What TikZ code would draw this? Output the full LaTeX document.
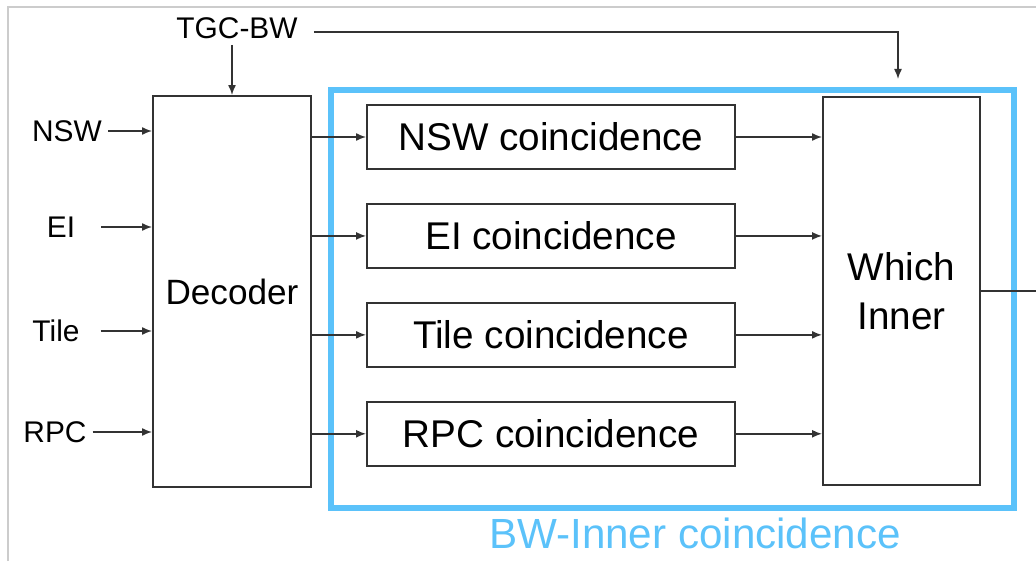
\documentclass[tikz,border=0pt]{standalone}
\usepackage{fontspec}
\setmainfont{Liberation Sans}
\usepackage{xcolor}
\usepackage{tikz}
\usetikzlibrary{arrows.meta,positioning}
\definecolor{innerBlue}{HTML}{5BC2FA}
\definecolor{lineGrey}{HTML}{333333}
\definecolor{frameGrey}{HTML}{CCCCCC}

\begin{document}
\begin{tikzpicture}[
  node distance=0.66cm,
  block/.style={rectangle,draw=lineGrey,line width=1.1pt,fill=white,align=center},
  coinc/.style={block,minimum width=7.36cm,minimum height=1.28cm,font=\fontsize{22}{26}\selectfont},
  inlabel/.style={font=\fontsize{17}{20}\selectfont},
  arrow/.style={-{Latex[length=2mm,width=1.6mm]},line width=0.85pt,color=lineGrey}
]
\useasboundingbox (0,0) rectangle (20.72,11.22);
\draw[frameGrey,line width=0.6pt] (0.16,0) -- (0.16,11.08) -- (20.72,11.08);

% BW-Inner frame
\draw[innerBlue,line width=2.9pt] (6.62,1.06) rectangle (20.28,9.42);
\node[text=innerBlue,font=\fontsize{24}{28}\selectfont] (bwlabel) at (13.9,0.56) {BW-Inner coincidence};

\node[block,minimum width=3.16cm,minimum height=7.82cm,font=\fontsize{20}{24}\selectfont] (dec) at (4.64,5.39) {Decoder};
\node[block,minimum width=3.14cm,minimum height=7.76cm,font=\fontsize{22}{28}\selectfont] (which) at (18.03,5.40) {Which\\Inner};

\node[coinc] (cnsw) at (11.02,8.48) {NSW coincidence};
\node[coinc,below=of cnsw] (cei) {EI coincidence};
\node[coinc,below=of cei] (ctile) {Tile coincidence};
\node[coinc,below=of ctile] (crpc) {RPC coincidence};

\node[inlabel] (tgc) at (4.74,10.66) {TGC-BW};
\node[inlabel] (nsw) at (1.34,8.6) {NSW};
\node[inlabel] (ei) at (1.22,6.68) {EI};
\node[inlabel] (tile) at (1.12,4.6) {Tile};
\node[inlabel] (rpc) at (1.1,2.58) {RPC};
\coordinate (tgcend) at (17.96,9.64);
\coordinate (out) at (20.72,5.40);

\draw[arrow] (dec.north |- tgc.south) -- (dec.north);
\draw[arrow] ([xshift=0.2cm,yshift=-0.08cm]tgc.east) -| (tgcend);
\draw[arrow] (nsw.east) -- (nsw.east -| dec.west);
\draw[arrow] ([xshift=0.4cm]ei.east) -- (ei.east -| dec.west);
\draw[arrow] ([xshift=0.3cm]tile.east) -- (tile.east -| dec.west);
\draw[arrow] (rpc.east) -- (rpc.east -| dec.west);

\draw[arrow] (dec.east |- cnsw) -- (cnsw);
\draw[arrow] (dec.east |- cei) -- (cei);
\draw[arrow] (dec.east |- ctile) -- (ctile);
\draw[arrow] (dec.east |- crpc) -- (crpc);

\draw[arrow] (cnsw) -- (cnsw -| which.west);
\draw[arrow] (cei) -- (cei -| which.west);
\draw[arrow] (ctile) -- (ctile -| which.west);
\draw[arrow] (crpc) -- (crpc -| which.west);

\draw[line width=0.85pt,lineGrey] (which.east) -- (out);
\end{tikzpicture}
\end{document}
